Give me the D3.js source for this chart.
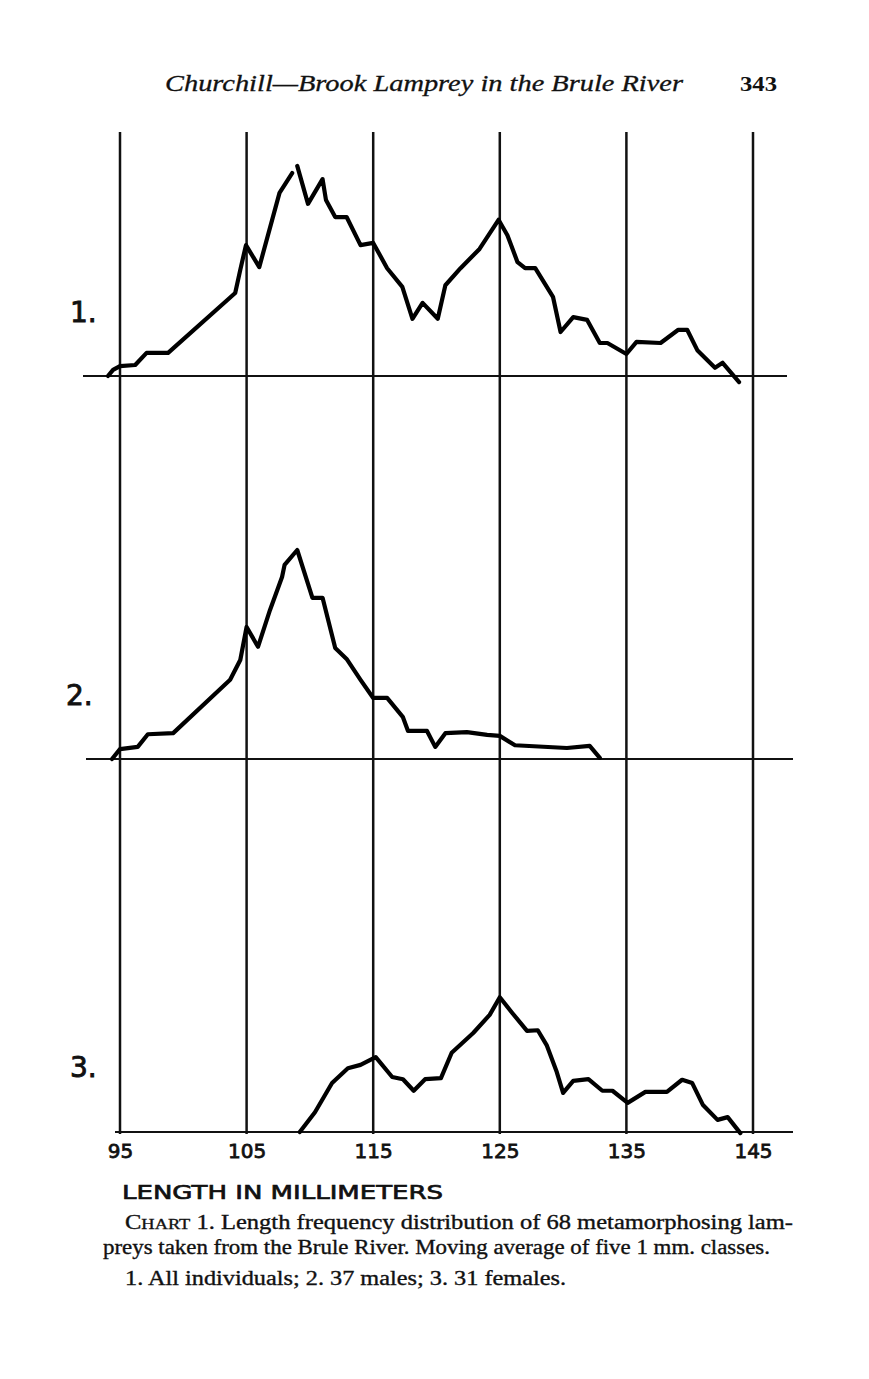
<!DOCTYPE html>
<html>
<head>
<meta charset="utf-8">
<script src="https://cdn.jsdelivr.net/npm/d3@7"></script>
<style>
  html, body { margin: 0; padding: 0; background: #fff; }
  svg { display: block; }
</style>
</head>
<body>
<script>
// ---------- data ----------
const tickValues = [95, 105, 115, 125, 135, 145];
const panelLabels = ["1.", "2.", "3."];

// Panel 1: all individuals (length mm, smoothed frequency); null = pen break
const lengths1 = [94.05, 94.45, 95.0, 96.2, 97.1, 98.8, 104.1, 104.5, 104.95, 106.0, 107.6, 108.6, 108.8, 109.0, 109.85, 111.0, 111.27, 112.0, 112.9, 114.0, 115.0, 116.1, 117.3, 118.1, 118.9, 120.1, 120.7, 121.9, 123.4, 124.9, 125.6, 126.4, 127.0, 127.8, 129.2, 129.8, 130.8, 131.9, 132.9, 133.5, 135.0, 135.8, 137.7, 139.1, 139.8, 140.6, 142.0, 142.6, 143.9];
const values1  = [0, 0.11, 0.18, 0.2, 0.42, 0.42, 1.51, 1.93, 2.38, 1.98, 3.33, 3.69, null, 3.82, 3.13, 3.58, 3.2, 2.89, 2.89, 2.38, 2.42, 1.96, 1.62, 1.04, 1.33, 1.04, 1.65, 1.96, 2.31, 2.84, 2.56, 2.07, 1.96, 1.96, 1.44, 0.8, 1.07, 1.02, 0.6, 0.6, 0.4, 0.62, 0.6, 0.84, 0.84, 0.47, 0.15, 0.24, -0.11];

// Panel 2: 37 males
const lengths2 = [94.37, 95.0, 96.4, 97.2, 99.2, 103.7, 104.5, 105.0, 105.9, 106.85, 107.8, 108.0, 109.0, 110.2, 111.0, 112.0, 112.9, 114.0, 115.0, 116.1, 117.35, 117.75, 119.25, 119.9, 120.7, 122.4, 124.0, 125.0, 126.2, 130.3, 132.1, 132.9];
const values2  = [0, 0.18, 0.22, 0.45, 0.47, 1.44, 1.8, 2.4, 2.04, 2.71, 3.31, 3.53, 3.8, 2.93, 2.93, 2.02, 1.82, 1.44, 1.11, 1.11, 0.76, 0.51, 0.51, 0.22, 0.47, 0.49, 0.44, 0.42, 0.25, 0.2, 0.24, 0.02];

// Panel 3: 31 females
const lengths3 = [109.2, 110.4, 111.75, 113.0, 114.0, 115.2, 116.5, 117.35, 118.2, 119.1, 120.35, 121.2, 122.9, 124.2, 125.0, 126.0, 127.15, 128.0, 128.7, 129.5, 130.0, 130.8, 132.0, 133.1, 133.9, 135.1, 136.5, 138.2, 139.4, 140.2, 141.05, 142.2, 143.0, 144.0];
const values3  = [0, 0.36, 0.89, 1.16, 1.22, 1.36, 1.0, 0.96, 0.75, 0.96, 0.98, 1.44, 1.8, 2.13, 2.45, 2.16, 1.84, 1.85, 1.58, 1.09, 0.71, 0.93, 0.96, 0.75, 0.75, 0.53, 0.73, 0.73, 0.95, 0.89, 0.49, 0.22, 0.27, -0.02];

// ---------- layout ----------
const W = 869, H = 1379;
const svg = d3.select("body").append("svg").attr("width", W).attr("height", H);
svg.append("rect").attr("width", W).attr("height", H).attr("fill", "#fff");

const x = d3.scaleLinear().domain([95, 145]).range([120, 753]);

const panels = [
  { base: 376,  x0: 83,  x1: 787, lengths: lengths1, values: values1, label: panelLabels[0], lx: 70, ly: 322 },
  { base: 759,  x0: 86,  x1: 793, lengths: lengths2, values: values2, label: panelLabels[1], lx: 66, ly: 705 },
  { base: 1132, x0: 115, x1: 793, lengths: lengths3, values: values3, label: panelLabels[2], lx: 70, ly: 1077 }
];
const unitPx = 55;

// vertical grid lines
svg.append("g").selectAll("line").data(tickValues).join("line")
  .attr("x1", d => x(d)).attr("x2", d => x(d))
  .attr("y1", 132).attr("y2", 1134)
  .attr("stroke", "#111").attr("stroke-width", 2.5);

panels.forEach(p => {
  const y = d3.scaleLinear().domain([0, 1]).range([p.base, p.base - unitPx]);
  svg.append("line")
    .attr("x1", p.x0).attr("x2", p.x1).attr("y1", p.base).attr("y2", p.base)
    .attr("stroke", "#111").attr("stroke-width", 2);
  const pts = p.lengths.map((l, i) => [l, p.values[i]]);
  const line = d3.line().defined(d => d[1] !== null)
    .x(d => x(d[0])).y(d => y(d[1]));
  svg.append("path").datum(pts)
    .attr("d", line)
    .attr("fill", "none").attr("stroke", "#000")
    .attr("stroke-width", 4.2).attr("stroke-linejoin", "round").attr("stroke-linecap", "round");
  svg.append("text").attr("x", p.lx).attr("y", p.ly)
    .attr("font-family", "DejaVu Sans, sans-serif").attr("font-size", 28)
    .attr("fill", "#111").attr("stroke", "#111").attr("stroke-width", 0.9)
    .text(p.label);
});

// bottom axis tick labels
const axis = d3.axisBottom(x).tickValues(tickValues).tickSize(0).tickPadding(0).tickFormat(d3.format("d"));
const gAxis = svg.append("g").attr("transform", "translate(0,1158)").call(axis);
gAxis.select(".domain").remove();
gAxis.selectAll("text")
  .attr("dy", 0).attr("y", 0)
  .attr("font-family", "DejaVu Sans, sans-serif").attr("font-size", 20)
  .attr("fill", "#111").attr("stroke", "#111").attr("stroke-width", 0.8);

// axis title
svg.append("text").attr("x", 122).attr("y", 1199)
  .attr("font-family", "DejaVu Sans, sans-serif").attr("font-size", 20)
  .attr("textLength", 321).attr("lengthAdjust", "spacingAndGlyphs")
  .attr("fill", "#111").attr("stroke", "#111").attr("stroke-width", 0.7)
  .text("LENGTH IN MILLIMETERS");

// header
svg.append("text").attr("x", 165).attr("y", 91)
  .attr("font-family", "Liberation Serif, serif").attr("font-style", "italic").attr("font-size", 23)
  .attr("textLength", 518).attr("lengthAdjust", "spacingAndGlyphs")
  .attr("fill", "#111").attr("stroke", "#111").attr("stroke-width", 0.3)
  .text("Churchill\u2014Brook Lamprey in the Brule River");
svg.append("text").attr("x", 740).attr("y", 91)
  .attr("font-family", "Liberation Serif, serif").attr("font-weight", "bold").attr("font-size", 22)
  .attr("textLength", 37).attr("lengthAdjust", "spacingAndGlyphs")
  .attr("fill", "#111").text("343");

// caption
const cap = { family: "Liberation Serif, serif", size: 20 };
const c1 = svg.append("text").attr("x", 125).attr("y", 1229)
  .attr("font-family", cap.family).attr("font-size", cap.size)
  .attr("textLength", 668).attr("lengthAdjust", "spacingAndGlyphs")
  .attr("fill", "#111").attr("stroke", "#111").attr("stroke-width", 0.35);
c1.append("tspan").text("C");
c1.append("tspan").attr("font-size", 15).text("HART");
c1.append("tspan").text(" 1. Length frequency distribution of 68 metamorphosing lam-");

svg.append("text").attr("x", 103).attr("y", 1254)
  .attr("font-family", cap.family).attr("font-size", cap.size)
  .attr("textLength", 667).attr("lengthAdjust", "spacingAndGlyphs")
  .attr("fill", "#111").attr("stroke", "#111").attr("stroke-width", 0.35)
  .text("preys taken from the Brule River. Moving average of five 1 mm. classes.");

svg.append("text").attr("x", 125).attr("y", 1285)
  .attr("font-family", cap.family).attr("font-size", cap.size)
  .attr("textLength", 441).attr("lengthAdjust", "spacingAndGlyphs")
  .attr("fill", "#111").attr("stroke", "#111").attr("stroke-width", 0.35)
  .text("1. All individuals; 2. 37 males; 3. 31 females.");
</script>
</body>
</html>
